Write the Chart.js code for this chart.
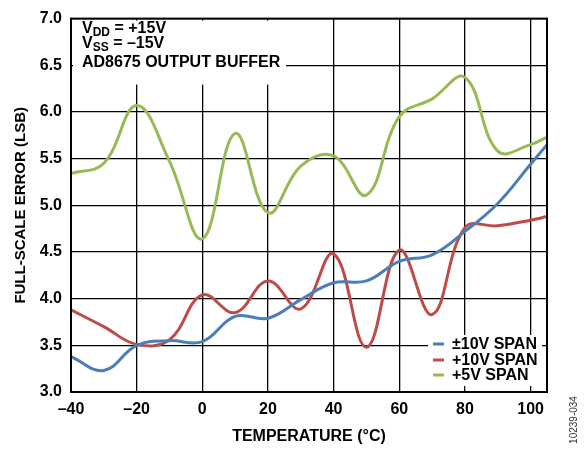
<!DOCTYPE html>
<html>
<head>
<meta charset="utf-8">
<script src="https://cdn.jsdelivr.net/npm/chart.js@4/dist/chart.umd.min.js"></script>
<style>
  html, body { margin: 0; padding: 0; background: #fff; }
  #wrap { width: 587px; height: 450px; position: relative; }
</style>
</head>
<body>
<div id="wrap"><canvas id="chart"></canvas></div>
<script>
// temperature (°C)
const temps = [-40, -30, -20, -10, 0, 10, 20, 30, 40, 50, 60, 70, 80, 90, 100, 105];

// full-scale error (LSB)
const span10Bipolar = [3.38, 3.23, 3.50, 3.55, 3.54, 3.81, 3.79, 3.99, 4.17, 4.19, 4.40, 4.47, 4.72, 5.02, 5.44, 5.65];
const span10 = [3.88, 3.70, 3.51, 3.56, 4.04, 3.85, 4.19, 3.89, 4.48, 3.48, 4.52, 3.83, 4.76, 4.78, 4.84, 4.88];
const span5 = [5.34, 5.45, 6.07, 5.47, 4.64, 5.77, 4.92, 5.42, 5.53, 5.11, 5.95, 6.14, 6.37, 5.58, 5.65, 5.73];

const seriesNames = ['±10V SPAN', '+10V SPAN', '+5V SPAN'];
const seriesColors = ['#4a7ebb', '#be4b48', '#98b954'];

const xTicks = [-40, -20, 0, 20, 40, 60, 80, 100];
const yTicks = [3.0, 3.5, 4.0, 4.5, 5.0, 5.5, 6.0, 6.5, 7.0];

const FONT = 'Liberation Sans, Arial, sans-serif';

function toPoints(ys) {
    return temps.map((t, i) => ({ x: t, y: ys[i] }));
}

function minusSign(v) {
    return v < 0 ? '\u2013' + Math.abs(v) : String(v);
}

// white boxes, frame, note and legend
const decorations = {
    id: 'decorations',
    afterDraw(chart) {
        const ctx = chart.ctx;
        const a = chart.chartArea;
        ctx.save();
        ctx.fillStyle = '#fff';
        ctx.fillRect(a.left + 2, a.top + 2, 213, 64);
        ctx.fillRect(428, 335, 114, 51);

        ctx.strokeStyle = '#000';
        ctx.lineWidth = 2;
        ctx.strokeRect(a.left, a.top, a.right - a.left, a.bottom - a.top);

        // supply note
        ctx.fillStyle = '#000';
        ctx.textBaseline = 'alphabetic';
        ctx.textAlign = 'left';
        const note = [['V', 'DD', ' = +15V', 33], ['V', 'SS', ' = \u201315V', 48]];
        note.forEach(([a1, sub, rest, y]) => {
            let x = 82;
            ctx.font = 'bold 16px ' + FONT;
            ctx.fillText(a1, x, y);
            x += ctx.measureText(a1).width;
            ctx.font = 'bold 12px ' + FONT;
            ctx.fillText(sub, x, y + 3);
            x += ctx.measureText(sub).width;
            ctx.font = 'bold 16px ' + FONT;
            ctx.fillText(rest, x, y);
        });
        ctx.font = 'bold 16px ' + FONT;
        ctx.fillText('AD8675 OUTPUT BUFFER', 82, 67);

        // legend
        ctx.textBaseline = 'middle';
        const rows = [344, 360, 375];
        seriesNames.forEach((name, i) => {
            ctx.fillStyle = seriesColors[i];
            ctx.fillRect(433, rows[i] - 1.5, 11, 3);
            ctx.fillStyle = '#000';
            ctx.fillText(name, 452, rows[i] + 1);
        });

        // figure number
        ctx.translate(574, 420);
        ctx.rotate(-Math.PI / 2);
        ctx.textAlign = 'center';
        ctx.font = '10px ' + FONT;
        ctx.fillStyle = '#333';
        ctx.fillText('10239-034', 0, 0);
        ctx.restore();
    }
};

new Chart(document.getElementById('chart'), {
    type: 'line',
    data: {
        datasets: [span10Bipolar, span10, span5].map((ys, i) => ({
            label: seriesNames[i],
            data: toPoints(ys),
            borderColor: seriesColors[i],
            backgroundColor: seriesColors[i],
            borderWidth: 3,
            pointRadius: 0,
            tension: 0.4,
            fill: false
        }))
    },
    options: {
        responsive: true,
        maintainAspectRatio: false,
        animation: false,
        layout: { padding: { top: 13, right: 40, left: 0, bottom: 0 } },
        plugins: {
            legend: { display: false },
            tooltip: { enabled: false }
        },
        scales: {
            x: {
                type: 'linear',
                min: -40,
                max: 105,
                afterFit: (scale) => { scale.height = 58; },
                afterBuildTicks: (scale) => { scale.ticks = xTicks.map(v => ({ value: v })); },
                grid: { color: '#000', lineWidth: 1.3, drawTicks: false },
                border: { display: false },
                ticks: {
                    padding: 8,
                    color: '#000',
                    font: { family: FONT, size: 16, weight: 'bold' },
                    callback: (v) => minusSign(v)
                },
                title: {
                    display: true,
                    text: 'TEMPERATURE (°C)',
                    color: '#000',
                    font: { family: FONT, size: 16, weight: 'bold' },
                    padding: { top: 0, bottom: 4 }
                }
            },
            y: {
                min: 3,
                max: 7,
                afterFit: (scale) => { scale.width = 71; },
                afterBuildTicks: (scale) => { scale.ticks = yTicks.map(v => ({ value: v })); },
                grid: { color: '#000', lineWidth: 1.3, drawTicks: false },
                border: { display: false },
                ticks: {
                    padding: 9,
                    color: '#000',
                    font: { family: FONT, size: 16, weight: 'bold' },
                    callback: (v) => v.toFixed(1)
                },
                title: {
                    display: true,
                    text: 'FULL-SCALE ERROR (LSB)',
                    color: '#000',
                    font: { family: FONT, size: 15, weight: 'bold' },
                    padding: { top: 12, bottom: 0 }
                }
            }
        }
    },
    plugins: [decorations]
});
</script>
</body>
</html>
